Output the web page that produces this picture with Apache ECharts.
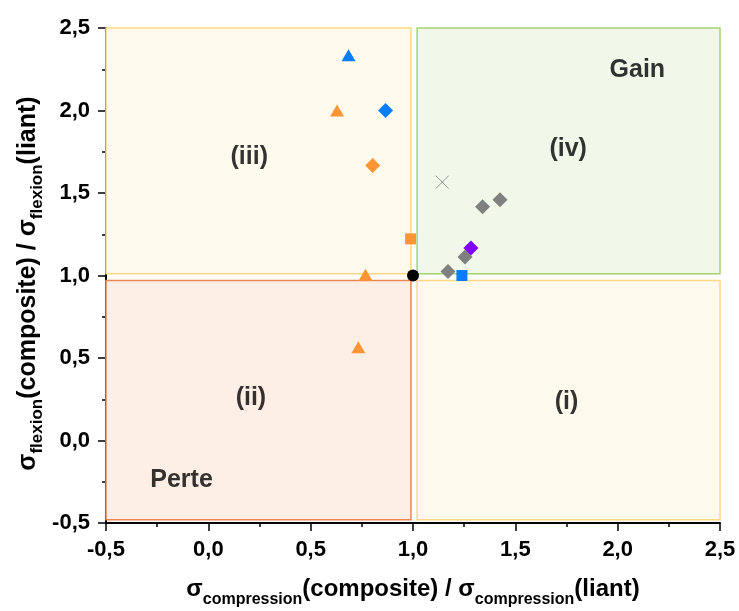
<!DOCTYPE html>
<html>
<head>
<meta charset="utf-8">
<script src="https://cdn.jsdelivr.net/npm/echarts@6/dist/echarts.min.js"></script>
<style>
html,body{margin:0;padding:0;background:#fff;}
#chart{width:739px;height:611px;}
</style>
</head>
<body>
<div id="chart"></div>
<script>
// ---- Data ----
const blueTriangle   = [[0.685, 2.335]];
const blueDiamond    = [[0.866, 2.0]];
const blueSquare     = [[1.239, 1.0]];
const orangeTriangle = [[0.629, 2.0], [0.768, 1.005], [0.733, 0.565]];
const orangeDiamond  = [[0.803, 1.667]];
const orangeSquare   = [[0.988, 1.222]];
const grayDiamond    = [[1.340, 1.417], [1.425, 1.459], [1.254, 1.112], [1.171, 1.024]];
const purpleDiamond  = [[1.283, 1.167]];
const grayCross      = [[1.143, 1.566]];
const referencePoint = [[1.0, 1.0]];

// Quadrant regions: [xStart, xEnd], [yStart, yEnd]
const regionNames = ['(iii)', '(iv)', '(ii)', '(i)'];
const regionX = [[-0.5, 0.99], [1.02, 2.5], [-0.5, 0.99], [1.02, 2.5]];
const regionY = [[1.01, 2.5], [1.01, 2.5], [-0.48, 0.97], [-0.48, 0.97]];

// Text annotations
const noteTexts = ['(iii)', '(iv)', '(ii)', '(i)', 'Gain', 'Perte'];
const noteX = [0.20, 1.758, 0.208, 1.75, 2.096, -0.131];
const noteY = [1.72, 1.764, 0.256, 0.231, 2.243, -0.243];

// Axis
const xMin = -0.5, xMax = 2.5, yMin = -0.5, yMax = 2.5, tickStep = 0.5;

// ---- Styles ----
const FONT = '"Liberation Sans", Arial, Helvetica, sans-serif';
const regionStyles = [
  {color: '#fef9ed', borderColor: '#fdd880', borderWidth: 1.5},
  {color: '#f1f8ea', borderColor: '#a2d56e', borderWidth: 1.5},
  {color: '#fdeee6', borderColor: '#ea8650', borderWidth: 1.5},
  {color: '#fef9ed', borderColor: '#fdd880', borderWidth: 1.5}
];
const BLUE = '#0a7dfc', ORANGE = '#fd9535', GRAY = '#808080', PURPLE = '#8000ff';

const markAreaData = regionNames.map((n, i) => [
  {name: n, xAxis: regionX[i][0], yAxis: regionY[i][0], itemStyle: regionStyles[i]},
  {xAxis: regionX[i][1], yAxis: regionY[i][1]}
]);

const notesData = noteTexts.map((t, i) => ({name: t, value: [noteX[i], noteY[i]]}));

function fmt(v) { return v.toFixed(1).replace('.', ','); }

function richName(main, sub, drop) {
  return {
    m: {fontFamily: FONT, fontWeight: 'bold', fontSize: main, color: '#000', lineHeight: 28,
        verticalAlign: 'bottom', padding: [0, 0, drop, 0]},
    s: {fontFamily: FONT, fontWeight: 'bold', fontSize: sub, color: '#000', lineHeight: 14,
        verticalAlign: 'bottom'}
  };
}

function axisCommon() {
  return {
    type: 'value',
    interval: tickStep,
    splitLine: {show: false},
    axisLine: {show: true, onZero: false, lineStyle: {color: '#000', width: 2}},
    axisTick: {show: true, inside: false, length: 8, lineStyle: {color: '#000', width: 1.5}},
    minorTick: {show: true, splitNumber: 2, length: 4, lineStyle: {color: '#000', width: 1.5}},
    axisLabel: {
      fontFamily: FONT, fontWeight: 'bold', fontSize: 22, color: '#000', margin: 16,
      formatter: fmt
    }
  };
}

function scatter(name, data, symbol, size, color, extra) {
  return Object.assign({
    name: name, type: 'scatter', data: data, symbol: symbol, symbolSize: size,
    itemStyle: {color: color, opacity: 1}, z: 5, silent: true
  }, extra || {});
}

const chart = echarts.init(document.getElementById('chart'), null, {renderer: 'canvas'});
chart.setOption({
  animation: false,
  backgroundColor: '#fff',
  grid: {left: 106, right: 19, top: 28, bottom: 88, containLabel: false, outerBoundsMode: 'none'},
  xAxis: Object.assign(axisCommon(), {
    min: xMin, max: xMax,
    name: '{m|σ}{s|compression}{m|(composite) / σ}{s|compression}{m|(liant)}',
    nameLocation: 'middle', nameGap: 57,
    nameTextStyle: {rich: richName(24, 16, 7)}
  }),
  yAxis: Object.assign(axisCommon(), {
    min: yMin, max: yMax,
    name: '{m|σ}{s|flexion}{m|(composite) / σ}{s|flexion}{m|(liant)}',
    nameLocation: 'middle', nameGap: 60, nameRotate: 90, nameMoveOverlap: false,
    nameTextStyle: {rich: richName(25, 17, 5), padding: [0, 16, 0, 0]}
  }),
  series: [
    {
      type: 'scatter', data: [], z: 1, silent: true,
      markArea: {silent: true, label: {show: false}, data: markAreaData}
    },
    {
      type: 'scatter', data: notesData, symbolSize: 0, z: 2, silent: true,
      label: {show: true, position: 'inside', formatter: p => p.name,
        fontFamily: FONT, fontWeight: 'bold', fontSize: 25, color: '#000',
        textBorderWidth: 0}
    },
    scatter('grayCross', grayCross, 'path://M0,0L10,10M10,0L0,10', 13, 'none',
      {itemStyle: {color: 'none', borderColor: GRAY, borderWidth: 1}}),
    scatter('blueTriangle', blueTriangle, 'triangle', [14, 12], BLUE),
    scatter('blueDiamond', blueDiamond, 'diamond', 15, BLUE),
    scatter('orangeTriangle', orangeTriangle, 'triangle', [14, 12], ORANGE),
    scatter('orangeDiamond', orangeDiamond, 'diamond', 15, ORANGE),
    scatter('orangeSquare', orangeSquare, 'rect', 11, ORANGE),
    scatter('grayDiamond', grayDiamond, 'diamond', 15, GRAY),
    scatter('purpleDiamond', purpleDiamond, 'diamond', 15, PURPLE, {z: 6}),
    scatter('blueSquare', blueSquare, 'rect', 11, BLUE),
    scatter('reference', referencePoint, 'circle', 12, '#000', {z: 7})
  ]
});
</script>
</body>
</html>
